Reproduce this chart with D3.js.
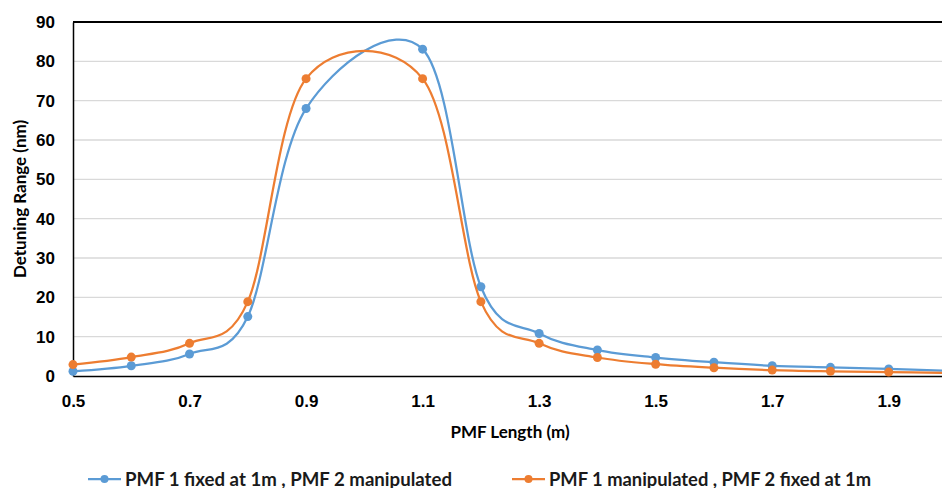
<!DOCTYPE html>
<html>
<head>
<meta charset="utf-8">
<script src="https://cdn.jsdelivr.net/npm/d3@7"></script>
<style>
  body { margin: 0; background: #fff; }
  svg { display: block; font-family: Lato, "DejaVu Sans Condensed", sans-serif; }
</style>
</head>
<body>
<div id="chart"></div>
<script>
// PMF length (m) — no measurement at 1.0
const lengths = [0.5, 0.6, 0.7, 0.8, 0.9, 1.1, 1.2, 1.3, 1.4, 1.5, 1.6, 1.7, 1.8, 1.9, 2.0];
const pmf1Fixed = [1.2, 2.6, 5.6, 15.1, 68, 83.1, 22.7, 10.8, 6.6, 4.7, 3.5, 2.6, 2.2, 1.8, 1.3];
const pmf2Fixed = [2.9, 4.8, 8.3, 18.9, 75.6, 75.6, 18.9, 8.3, 4.7, 3.0, 2.1, 1.5, 1.2, 1.0, 0.8];
const xTicks = [0.5, 0.7, 0.9, 1.1, 1.3, 1.5, 1.7, 1.9];
const yTicks = [0, 10, 20, 30, 40, 50, 60, 70, 80, 90];
const seriesNames = ['PMF 1 fixed at 1m  , PMF 2 manipulated', 'PMF 1 manipulated , PMF 2 fixed at 1m'];
const seriesColors = ['#5b9bd5', '#ed7d31'];

const width = 942, height = 488;
const plot = { left: 73, right: 947, top: 22, bottom: 376 };

const svg = d3.select('#chart').append('svg')
    .attr('width', width)
    .attr('height', height);

const x = d3.scaleLinear().domain([0.5, 2.0]).range([plot.left, plot.right]);
const y = d3.scaleLinear().domain([0, 90]).range([plot.bottom, plot.top]);

// 网格线
svg.append('g')
    .selectAll('line')
    .data(yTicks.slice(1))
    .enter()
    .append('line')
    .attr('x1', plot.left)
    .attr('x2', width)
    .attr('y1', d => y(d))
    .attr('y2', d => y(d))
    .attr('stroke', d => d === 90 ? '#000' : '#d9d9d9')
    .attr('stroke-width', d => d === 90 ? 2 : 1.3);

// 坐标轴
const yAxis = svg.append('g')
    .attr('transform', `translate(${plot.left},0)`)
    .call(d3.axisLeft(y).tickValues(yTicks).tickSize(0).tickPadding(18));
yAxis.select('.domain').attr('stroke', '#000').attr('stroke-width', 1.5);

const xAxis = svg.append('g')
    .attr('transform', `translate(0,${plot.bottom})`)
    .call(d3.axisBottom(x).tickValues(xTicks).tickFormat(d3.format('.1f')).tickSize(0).tickPadding(19));
xAxis.select('.domain').attr('stroke', '#000').attr('stroke-width', 1.5);

svg.selectAll('.tick text')
    .attr('fill', '#000')
    .style('font-size', '17px')
    .style('font-weight', 'bold');

// 轴标题
svg.append('text')
    .attr('x', 510)
    .attr('y', 438)
    .attr('text-anchor', 'middle')
    .style('font-size', '17px')
    .style('font-weight', 'bold')
    .text('PMF Length (m)');

svg.append('text')
    .attr('transform', 'translate(26,199) rotate(-90)')
    .attr('text-anchor', 'middle')
    .style('font-size', '17px')
    .style('font-weight', 'bold')
    .text('Detuning Range (nm)');

// 曲线
const line = d3.line()
    .x(d => x(d[0]))
    .y(d => y(d[1]))
    .curve(d3.curveCardinal.tension(0));

[pmf1Fixed, pmf2Fixed].forEach((vals, i) => {
    const pts = lengths.map((l, j) => [l, vals[j]]);
    const g = svg.append('g');
    g.append('path')
        .datum(pts)
        .attr('d', line)
        .attr('fill', 'none')
        .attr('stroke', seriesColors[i])
        .attr('stroke-width', 2.25);
    g.selectAll('circle')
        .data(pts)
        .enter()
        .append('circle')
        .attr('cx', d => x(d[0]))
        .attr('cy', d => y(d[1]))
        .attr('r', 4.5)
        .attr('fill', seriesColors[i]);
});

// 图例
const legendX = [88, 512];
const legendTextWidth = [327, 322];
const legend = svg.selectAll('.legend')
    .data(seriesNames)
    .enter()
    .append('g')
    .attr('class', 'legend')
    .attr('transform', (d, i) => `translate(${legendX[i]},479)`);
legend.append('line')
    .attr('x1', 0).attr('x2', 33)
    .attr('stroke', (d, i) => seriesColors[i])
    .attr('stroke-width', 2.25);
legend.append('circle')
    .attr('cx', 16.5)
    .attr('r', 4)
    .attr('fill', (d, i) => seriesColors[i]);
legend.append('text')
    .attr('x', 37)
    .attr('dy', '0.35em')
    .attr('textLength', (d, i) => legendTextWidth[i])
    .attr('lengthAdjust', 'spacingAndGlyphs')
    .style('font-size', '19px')
    .style('font-weight', 'bold')
    .attr('fill', '#1a1a1a')
    .text(d => d);
</script>
</body>
</html>
